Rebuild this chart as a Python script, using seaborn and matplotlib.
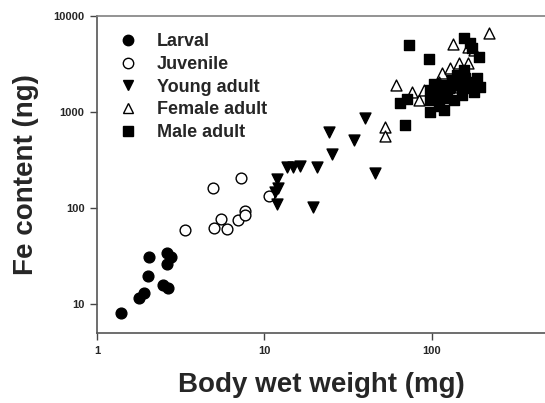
import numpy as np
import pandas as pd
import matplotlib
matplotlib.use("Agg")
import matplotlib.pyplot as plt
import seaborn as sns
from matplotlib.lines import Line2D

# ---- data (body wet weight mg, Fe content ng) ----
larval_x = [1.39, 1.78, 1.91, 2.02, 2.05, 2.63, 2.77, 2.63, 2.49, 2.66]
larval_y = [8.1, 11.5, 13.0, 19.6, 30.9, 34.0, 30.9, 26.0, 15.8, 14.7]

juvenile_x = [3.36, 4.95, 7.28, 5.02, 5.53, 6.0, 6.99, 7.7, 7.7, 10.7]
juvenile_y = [59, 161, 205, 62, 77, 60, 75, 93, 85, 133]

young_x = [11.8, 12.1, 11.5, 11.8, 13.7, 14.9, 16.2, 20.5, 25.2, 24.2, 34.1, 39.7, 45.6, 19.4]
young_y = [200, 161, 147, 110, 267, 267, 274, 267, 365, 616, 511, 866, 232, 102]

female_x = [219, 134, 178, 60.9, 75.9, 83.6, 89.6, 115, 128, 145, 164, 110, 147, 52.3, 52.3, 164]
female_y = [6654, 5110, 4425, 1910, 1616, 1334, 1694, 2546, 2872, 3237, 3237, 2054, 1820, 699, 562, 4750]

male_x = [72.8, 96, 155, 169, 174, 191, 64.3, 70.9, 68.9,
          97.3, 97.3, 97.3, 107, 110, 115, 123, 126, 132, 141, 147, 151,
          158, 164, 174, 178, 186, 194, 135, 118, 103, 155, 115]
male_y = [4990, 3565, 5900, 5230, 4640, 3740, 1241, 1365, 733,
          1694, 1334, 1000, 1503, 1155, 1910, 1398, 1778, 2154, 2427, 1910, 1503,
          2260, 1778, 2054, 1616, 2260, 1820, 1334, 1049, 1960, 2738, 1503]

stages = ["Larval", "Juvenile", "Young adult", "Female adult", "Male adult"]
xs = [larval_x, juvenile_x, young_x, female_x, male_x]
ys = [larval_y, juvenile_y, young_y, female_y, male_y]

df = pd.concat([pd.DataFrame({"weight": x, "fe": y, "stage": s})
                for s, x, y in zip(stages, xs, ys)], ignore_index=True)

markers = {"Larval": "o", "Juvenile": "o", "Young adult": "v",
           "Female adult": "^", "Male adult": "s"}
faces = {"Larval": "black", "Juvenile": "white", "Young adult": "black",
         "Female adult": "white", "Male adult": "black"}
sizes = {"Larval": 60, "Juvenile": 60, "Young adult": 62,
         "Female adult": 62, "Male adult": 52}

sns.set_style("ticks")
plt.rcParams["font.family"] = ["Liberation Sans", "DejaVu Sans"]

fig = plt.figure(figsize=(5.45, 4.03), dpi=100)
ax = fig.add_axes([97 / 545, 1 - 333 / 403, 1 - 97 / 545, (333 - 16) / 403])

for s in stages:
    sub = df[df["stage"] == s]
    sns.scatterplot(data=sub, x="weight", y="fe", marker=markers[s],
                    s=sizes[s], color=faces[s], edgecolor="black",
                    linewidth=1.0, ax=ax, legend=False, zorder=3)

ax.set_xscale("log")
ax.set_yscale("log")
ax.set_xlim(1, 473)
ax.set_ylim(5, 10000)
ax.set_xticks([1, 10, 100])
ax.set_xticklabels(["1", "10", "100"])
ax.set_yticks([10, 100, 1000, 10000])
ax.set_yticklabels(["10", "100", "1000", "10000"])
ax.minorticks_off()
ax.tick_params(axis="both", which="major", direction="out", length=5,
               width=1, color="#444444", labelsize=8, pad=4)
for lab in ax.get_xticklabels() + ax.get_yticklabels():
    lab.set_fontweight("bold")

ax.spines["right"].set_visible(False)
for sp in ["top", "bottom", "left"]:
    ax.spines[sp].set_linewidth(1.2)
    ax.spines[sp].set_color("#555555")
ax.spines["top"].set_color("#808080")

ax.set_xlabel("Body wet weight (mg)", fontsize=20, fontweight="bold", labelpad=12)
ax.set_ylabel("Fe content (ng)", fontsize=20, fontweight="bold", labelpad=10)

handles = [Line2D([], [], linestyle="none", marker=markers[s],
                  markersize=7.5, markerfacecolor=faces[s],
                  markeredgecolor="black", markeredgewidth=1.0) for s in stages]
leg = ax.legend(handles, stages, loc="upper left", frameon=False,
                bbox_to_anchor=(0.0, 1.0), prop={"size": 13, "weight": "bold"},
                handletextpad=0.85, labelspacing=0.32, handlelength=1.5,
                borderaxespad=0.55)

fig.savefig("out.png", dpi=100)
